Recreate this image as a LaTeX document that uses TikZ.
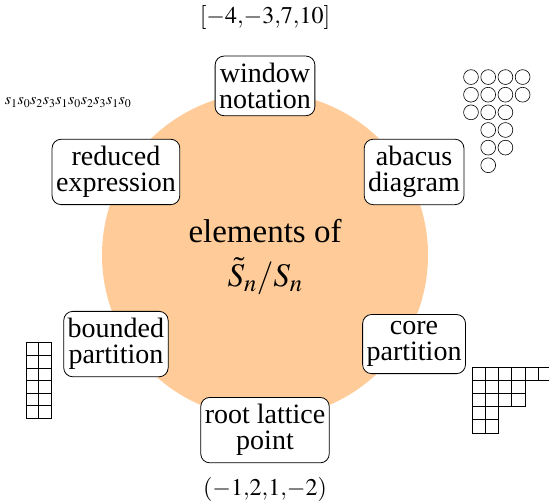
\documentclass[tikz,border=0pt]{standalone}
\usepackage{mathptmx}
\usepackage[no-math]{fontspec}
\setmainfont{Liberation Serif}
\definecolor{disc}{RGB}{255, 204, 153}
\usetikzlibrary{positioning}

\begin{document}
\begin{tikzpicture}[
        view/.style={rectangle, draw, line width=0.8pt, fill=white, rounded corners=9pt,
                     inner xsep=4pt, inner ysep=7pt, align=center,
                     font=\fontsize{28}{26}\selectfont},
        example/.style={font=\fontsize{24}{28}\selectfont},
        cell/.style={draw, line width=0.6pt},
        bead/.style={draw, line width=0.6pt}
    ]
        \useasboundingbox (-9.315,-8.612) rectangle (9.982,9.069);

        % The disc in the middle
        \fill[disc] (0,0.1) circle (5.73);
        \node[align=center, font=\fontsize{33}{44}\selectfont] (elem) at (0,0.05)
            {elements of\\$\tilde{S}_n/S_n$};

        % Six ways to write an element
        \node[view] (window)  at (90:6.05)  {window\\notation};
        \node[view] (abacus)  at (30:6.05)  {abacus\\diagram};
        \node[view] (reduced) at (150:6.05) {reduced\\expression};
        \node[view] (bounded) at (210:6.05) {bounded\\partition};
        \node[view] (core)    at (330:6.05) {core\\partition};
        \node[view] (root)    at (270:6.05) {root lattice\\point};

        % Examples
        \node[example] (windowex) at (0,8.45) {$[-4{,}{-}3{,}7{,}10]$};
        \node[example] (rootex) at (0,-8.12) {$(-1{,}2{,}1{,}{-}2)$};
        \node[font=\fontsize{16}{18}\selectfont] (reducedex) at (-6.92,5.46)
            {$s_1s_0s_2s_3s_1s_0s_2s_3s_1s_0$};

        % Abacus beads
        \foreach \r/\cols in {0/{0,1,2,3},1/{0,1,2,3},2/{0,1,2},3/{1,2},4/{1,2},5/{1}}
            \foreach \c in \cols
                \draw[bead] (7.24+0.605*\c, 6.36-0.62*\r) circle (0.26);

        % Bounded partition
        \foreach \r in {0,...,5}
            \foreach \c in {0,1}
                \draw[cell] (-8.40+0.44*\c, -2.98-0.44*\r) rectangle +(0.44,-0.44);

        % Core partition
        \foreach \r/\len in {0/6,1/4,2/4,3/2,4/2}
            \foreach \c in {1,...,\len}
                \draw[cell] (7.28+0.464*\c-0.464, -3.83-0.464*\r) rectangle +(0.464,-0.464);
    \end{tikzpicture}
\end{document}
